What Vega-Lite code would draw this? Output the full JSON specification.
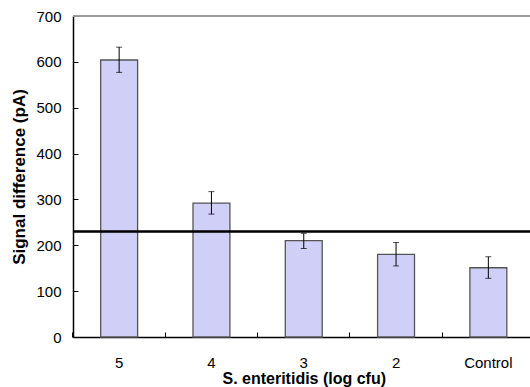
{
  "$schema": "https://vega.github.io/schema/vega-lite/v6.json",
  "width": 457,
  "height": 321,
  "autosize": "none",
  "padding": {"left": 73, "top": 16, "right": 0, "bottom": 50},
  "background": "white",
  "config": {
    "view": {"stroke": null},
    "font": "Liberation Sans",
    "axis": {"grid": false, "domainColor": "black", "tickColor": "black", "labelColor": "black", "titleColor": "black", "labelFont": "Liberation Sans", "titleFont": "Liberation Sans", "labelFontSize": 15, "titleFontSize": 16, "titleFontWeight": "bold", "domainWidth": 1.5, "tickWidth": 1}
  },
  "data": {"values": [
    {"group": "5", "value": 604, "lo": 577, "hi": 632},
    {"group": "4", "value": 292, "lo": 268, "hi": 317},
    {"group": "3", "value": 210, "lo": 193, "hi": 226},
    {"group": "2", "value": 180, "lo": 155, "hi": 206},
    {"group": "Control", "value": 151, "lo": 128, "hi": 175}
  ]},
  "encoding": {
    "x": {
      "field": "group", "type": "nominal", "sort": null,
      "scale": {"range": [0, 461.5], "paddingInner": 0.6, "paddingOuter": 0.3},
      "axis": {"title": "S. enteritidis (log cfu)", "labelAngle": 0, "bandPosition": -0.75, "tickSize": -5, "labelPadding": 23, "titlePadding": 0}
    }
  },
  "layer": [
    {
      "mark": {"type": "bar", "fill": "#cfcff7", "stroke": "#555555", "strokeWidth": 1.3},
      "encoding": {
        "y": {"field": "value", "type": "quantitative", "scale": {"domain": [0, 700], "nice": false},
          "axis": {"title": "Signal difference (pA)", "titleFontSize": 17, "values": [0,100,200,300,400,500,600,700], "tickSize": -5, "labelPadding": 17, "titlePadding": 7}}
      }
    },
    {
      "mark": {"type": "rule", "color": "black", "strokeWidth": 1},
      "encoding": {"y": {"field": "lo", "type": "quantitative"}, "y2": {"field": "hi"}}
    },
    {
      "mark": {"type": "tick", "color": "black", "thickness": 1, "size": 6},
      "encoding": {"y": {"field": "lo", "type": "quantitative"}}
    },
    {
      "mark": {"type": "tick", "color": "black", "thickness": 1, "size": 6},
      "encoding": {"y": {"field": "hi", "type": "quantitative"}}
    },
    {
      "mark": {"type": "rule", "color": "black", "strokeWidth": 1.5},
      "encoding": {"y": {"datum": 230, "type": "quantitative"}, "x": {"value": 0}, "x2": {"value": 461}}
    },
    {
      "mark": {"type": "rule", "color": "#999999", "strokeWidth": 1},
      "encoding": {"y": {"datum": 700, "type": "quantitative"}, "x": {"value": 0}, "x2": {"value": 461}}
    }
  ]
}
